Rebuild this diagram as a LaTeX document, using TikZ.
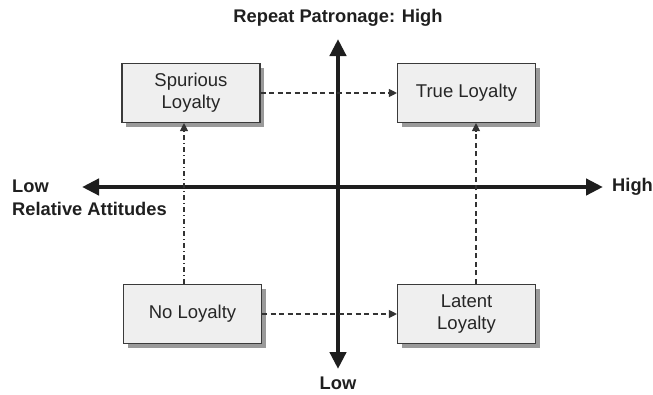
\documentclass[tikz,border=0pt]{standalone}
\usepackage{fontspec}
\setmainfont{Liberation Sans}
\usetikzlibrary{arrows.meta}
\definecolor{boxfill}{HTML}{EFEFEF}
\definecolor{boxline}{HTML}{3A3A3A}
\definecolor{shadowc}{HTML}{9A9A9A}
\definecolor{axisc}{HTML}{1E1E1E}
\begin{document}
\begin{tikzpicture}[x=1pt,y=-1pt,
  quad/.style={draw=boxline,line width=1.1pt,fill=boxfill,minimum width=138pt,minimum height=59pt,
    align=center,inner sep=0pt,font=\fontsize{18.5}{22}\selectfont,text=black!85},
  shadowbox/.style={fill=shadowc,draw=none,minimum width=138pt,minimum height=59pt,inner sep=0pt},
  axis/.style={draw=axisc,line width=4.6pt,-{Triangle[length=17pt,width=16pt]}},
  lab/.style={font=\bfseries\fontsize{18.3}{21}\selectfont,text=black!88,inner sep=0pt},
  conn/.style={draw=black!80,line width=1.1pt,-{Triangle[length=8pt,width=8pt]}},
  dashc/.style={dash pattern=on 5pt off 3.5pt},
  dashdotc/.style={dash pattern=on 5pt off 3pt on 1pt off 3pt}]
\useasboundingbox (0,0) rectangle (653,394);
% shadows
\node[shadowbox] at (195,97) {};
\node[shadowbox] at (470.5,97) {};
\node[shadowbox] at (196.5,318) {};
\node[shadowbox] at (470.5,318) {};
% boxes
\node[quad] (sp) at (191,93) {Spurious\\Loyalty};
\node[quad] (tr) at (466.5,93) {True Loyalty};
\node[quad] (no) at (192.5,314) {No Loyalty};
\node[quad] (la) at (466.5,314) {Latent\\Loyalty};
% axes
\coordinate (o) at (338,187);
\coordinate (top) at (338,39);
\coordinate (bot) at (338,369);
\coordinate (lft) at (82,187);
\coordinate (rgt) at (603,187);
\draw[axis] (o) -- (top);
\draw[axis] (o) -- (bot);
\draw[axis] (o) -- (lft);
\draw[axis] (o) -- (rgt);
% labels
\node[lab] (ltop) at (338,18) {Repeat Patronage: High};
\node[lab] (lbot) at (338,383) {Low};
\node[lab,anchor=west] (llow) at (12,186) {Low};
\node[lab,anchor=west] (lrel) at (12,209) {Relative Attitudes};
\node[lab,anchor=west] (lhigh) at (612,187) {High};
% connectors
\coordinate (xl) at (184,0);
\coordinate (xr) at (476,0);
\draw[conn,dashdotc] (no.north -| xl) -- (sp.south -| xl);
\draw[conn,dashc] (la.north -| xr) -- (tr.south -| xr);
\draw[conn,dashc] (sp.east) -- (tr.west);
\draw[conn,dashc] (no.east) -- (la.west);
\end{tikzpicture}
\end{document}
